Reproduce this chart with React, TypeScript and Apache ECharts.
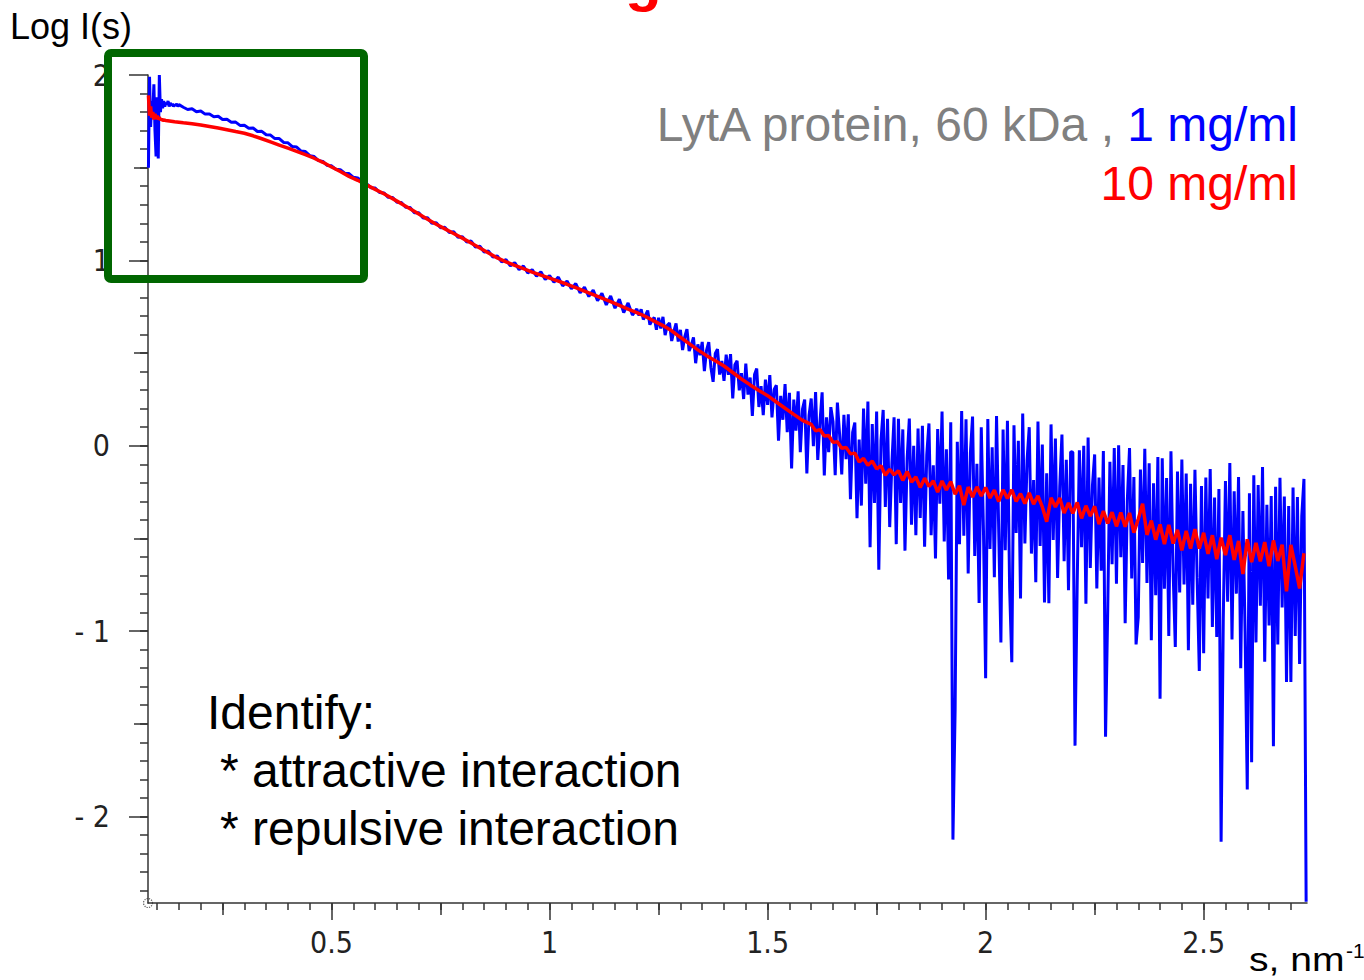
import React, { useEffect, useRef } from "react";
import * as echarts from "echarts";

// ---- axis ranges and ticks ----
const X_MIN = 0.079;
const X_MAX = 2.737;
const Y_MIN = -2.467;
const Y_MAX = 2;
const X_MAJOR = [0.5, 1, 1.5, 2, 2.5];
const X_MID = [0.25, 0.75, 1.25, 1.75, 2.25];
const Y_MAJOR = [-2, -1, 0, 1, 2];
const Y_MID = [-1.5, -0.5, 0.5, 1.5];
const X_MINOR: number[] = [];
for (let k = 2; k <= 54; k++) X_MINOR.push(+(k * 0.05).toFixed(2));
const Y_MINOR: number[] = [];
for (let k = -24; k <= 19; k++) Y_MINOR.push(+(k * 0.1).toFixed(1));

// ---- data: s grid start / step and Log I(s) values ----
// 1 mg/ml (blue)
const BLUE_HEAD_START = 0.08, BLUE_HEAD_STEP = 0.0025;
const blueHead = [1.50, 1.99, 1.72, 1.86, 1.80, 1.95, 1.70, 1.56, 1.88, 1.55, 2.00, 1.80, 1.87, 1.82, 1.86, 1.83, 1.85, 1.84, 1.86, 1.83, 1.85, 1.835, 1.845, 1.83, 1.84, 1.835, 1.845, 1.83, 1.84];
const BLUE_MID_START = 0.16, BLUE_MID_STEP = 0.01;
const blueMid = [
  1.826, 1.814, 1.818, 1.802, 1.806, 1.789, 1.790, 1.775, 1.777, 1.760,
  1.761, 1.745, 1.746, 1.728, 1.729, 1.713, 1.714, 1.695, 1.696, 1.678,
  1.676, 1.657, 1.657, 1.636, 1.634, 1.614, 1.611, 1.590, 1.587, 1.565,
  1.560, 1.538, 1.534, 1.512, 1.510, 1.491, 1.489, 1.470, 1.468, 1.448,
  1.445, 1.425, 1.414, 1.392, 1.390, 1.366, 1.364, 1.340, 1.339, 1.313,
  1.312, 1.286, 1.285, 1.257, 1.257, 1.229, 1.230, 1.200, 1.203, 1.176,
  1.178, 1.150, 1.155, 1.124, 1.128, 1.099, 1.104, 1.072, 1.076, 1.045,
  1.050, 1.018, 1.024, 0.992, 1.004, 0.970, 0.988, 0.950, 0.970, 0.932,
  0.950, 0.915, 0.938, 0.897, 0.918, 0.882, 0.910, 0.862, 0.889, 0.846,
  0.875, 0.825, 0.856, 0.805, 0.840, 0.782, 0.822, 0.760, 0.808, 0.742,
  0.790, 0.718, 0.770, 0.705,
];
const BLUE_TAIL_START = 1.2, BLUE_TAIL_STEP = 0.005;
const blueTail = [
  0.738, 0.702, 0.736, 0.681, 0.705, 0.729, 0.653, 0.677, 0.692, 0.626,
  0.690, 0.632, 0.695, 0.597, 0.650, 0.662, 0.565, 0.617, 0.660, 0.562,
  0.625, 0.516, 0.588, 0.629, 0.511, 0.542, 0.584, 0.445, 0.547, 0.488,
  0.560, 0.403, 0.516, 0.559, 0.422, 0.345, 0.498, 0.521, 0.384, 0.457,
  0.350, 0.491, 0.383, 0.494, 0.255, 0.437, 0.458, 0.299, 0.391, 0.252,
  0.443, 0.276, 0.368, 0.161, 0.384, 0.416, 0.209, 0.322, 0.165, 0.357,
  0.220, 0.381, 0.153, 0.304, 0.326, 0.027, 0.269, 0.140, 0.332, 0.073,
  0.285, -0.123, 0.249, 0.081, 0.293, -0.035, 0.197, 0.249, -0.149, 0.163,
  0.255, -0.002, 0.290, -0.077, 0.125, 0.288, -0.160, 0.153, -0.035, 0.208,
  0.130, -0.159, 0.233, 0.064, -0.155, 0.167, -0.072, 0.169, -0.289, 0.072,
  0.125, -0.391, 0.033, -0.323, 0.201, -0.205, 0.239, -0.547, 0.117, -0.309,
  0.185, -0.669, 0.027, 0.193, -0.331, 0.145, -0.439, -0.093, 0.153, -0.531,
  0.145, -0.309, 0.088, -0.566, -0.069, 0.147, -0.426, 0.000, -0.483, 0.093,
  -0.390, 0.107, -0.545, -0.048, 0.120, -0.483, -0.105, -0.608, 0.090, -0.313,
  0.185, -0.517, -0.019, -0.721, 0.127, -2.125, -1.427, 0.021, -0.531, 0.187,
  -0.485, 0.143, -0.689, -0.041, 0.157, -0.595, -0.097, -0.849, 0.099, -0.453,
  -1.255, 0.144, -0.557, -0.008, -0.709, 0.160, -0.461, -1.062, 0.087, -0.564,
  0.135, -0.767, -1.168, 0.110, -0.471, 0.027, -0.824, 0.174, -0.527, -0.079,
  0.100, -0.582, -0.185, -0.737, 0.131, -0.541, 0.006, -0.846, -0.148, -0.850,
  0.115, -0.508, 0.039, -0.714, -0.217, 0.060, -0.623, -0.076, -0.779, -0.032,
  -0.035, -1.618, -0.741, -0.024, -0.547, 0.000, -0.853, 0.044, -0.659, -0.212,
  -0.047, -0.770, -0.172, -0.675, -0.028, -1.570, -0.883, -0.086, -0.639, -0.012,
  -0.745, 0.002, -0.601, -0.104, -0.957, -0.290, -0.013, -0.716, -0.169, -1.072,
  -0.925, -0.129, -0.633, -0.017, -0.741, -0.095, -1.049, -0.203, -0.807, -0.061,
  -1.365, -0.068, -0.771, -0.174, -1.027, -0.030, -0.683, -1.086, -0.139, -0.792,
  -0.075, -0.748, -0.150, -1.103, -0.205, -0.858, -0.130, -0.713, -1.215, -0.218,
  -1.120, -0.172, -0.824, -0.126, -0.978, -0.280, -1.032, -0.234, -2.136, -0.938,
  -0.190, -0.842, -0.093, -1.045, -0.246, -0.798, -0.169, -1.201, -0.352, -1.004,
  -1.855, -0.256, -1.708, -0.159, -1.061, -0.212, -0.863, -0.115, -1.166, -0.318,
  -0.970, -0.271, -1.621, -0.222, -1.072, -0.173, -0.873, -0.274, -1.274, -0.325,
  -1.275, -0.226, -1.027, -0.277, -1.178, -0.378, -0.179, -2.460,
];

// 10 mg/ml (red)
const RED_HEAD_START = 0.08, RED_HEAD_STEP = 0.0025;
const redHead = [1.89, 1.78, 1.83, 1.77, 1.80, 1.76, 1.79, 1.765, 1.78, 1.76, 1.772, 1.758, 1.762, 1.756, 1.757];
const RED_MID_START = 0.12, RED_MID_STEP = 0.02;
const redMid = [
  1.755, 1.748, 1.742, 1.737, 1.730, 1.722, 1.714, 1.705, 1.695, 1.686,
  1.672, 1.656, 1.639, 1.622, 1.605, 1.588, 1.570, 1.551, 1.529, 1.504,
  1.479, 1.453, 1.432, 1.407, 1.383, 1.359, 1.333, 1.306, 1.278, 1.250,
  1.222, 1.195, 1.170, 1.145, 1.120, 1.094, 1.067, 1.040, 1.013, 0.992,
  0.973, 0.955, 0.937, 0.920, 0.904, 0.888, 0.871, 0.853, 0.834, 0.815,
  0.796, 0.777, 0.757, 0.737, 0.718, 0.697, 0.672, 0.648, 0.620, 0.585,
  0.551, 0.517, 0.486, 0.458, 0.430, 0.395, 0.360, 0.328, 0.298, 0.270,
  0.236, 0.202, 0.169, 0.137,
];
const RED_TAIL_START = 1.6, RED_TAIL_STEP = 0.01;
const redTail = [
  0.115, 0.080, 0.087, 0.052, 0.055, 0.018, 0.021, -0.014, -0.009, -0.044,
  -0.040, -0.087, -0.069, -0.106, -0.083, -0.125, -0.108, -0.159, -0.127, -0.157,
  -0.135, -0.187, -0.139, -0.196, -0.168, -0.225, -0.175, -0.220, -0.190, -0.250,
  -0.190, -0.239, -0.193, -0.262, -0.216, -0.320, -0.223, -0.277, -0.222, -0.271,
  -0.225, -0.282, -0.239, -0.301, -0.238, -0.285, -0.238, -0.301, -0.259, -0.312,
  -0.255, -0.315, -0.270, -0.330, -0.410, -0.281, -0.331, -0.282, -0.363, -0.309,
  -0.365, -0.306, -0.392, -0.324, -0.380, -0.327, -0.423, -0.353, -0.419, -0.359,
  -0.435, -0.361, -0.437, -0.363, -0.469, -0.395, -0.313, -0.481, -0.404, -0.507,
  -0.425, -0.531, -0.427, -0.528, -0.454, -0.565, -0.460, -0.555, -0.450, -0.555,
  -0.470, -0.584, -0.483, -0.612, -0.496, -0.590, -0.483, -0.616, -0.514, -0.692,
  -0.505, -0.628, -0.524, -0.624, -0.520, -0.650, -0.511, -0.622, -0.534, -0.785,
  -0.535, -0.650, -0.770, -0.580,
];

// ---- texts ----
const Y_TITLE = "Log I(s)";
const X_TITLE = "s, nm";
const X_TITLE_SUP = "-1";
const SAMPLE_TEXT = "LytA protein, 60 kDa , ";
const BLUE_NAME = "1 mg/ml";
const RED_NAME = "10 mg/ml";
const NOTE_LINES = ["Identify:", "* attractive interaction", "* repulsive interaction"];
const TITLE_FRAGMENT = "g";

const SANS = '"Liberation Sans", Arial, sans-serif';
const NARROW = '"Liberation Sans Narrow", "Arial Narrow", "DejaVu Sans Condensed", "Liberation Sans", sans-serif';
const AXIS_COLOR = "#333";

function seg(start: number, step: number, vals: number[]) {
  return vals.map((v, i) => [+(start + i * step).toFixed(4), v]);
}

const blueData = [
  ...seg(BLUE_HEAD_START, BLUE_HEAD_STEP, blueHead),
  ...seg(BLUE_MID_START, BLUE_MID_STEP, blueMid),
  ...seg(BLUE_TAIL_START, BLUE_TAIL_STEP, blueTail),
];
const redData = [
  ...seg(RED_HEAD_START, RED_HEAD_STEP, redHead),
  ...seg(RED_MID_START, RED_MID_STEP, redMid),
  ...seg(RED_TAIL_START, RED_TAIL_STEP, redTail),
];

function fmt(v: number) {
  return v < 0 ? "- " + String(-v) : String(v);
}

function makeAxis(kind: "x" | "y", ticks: number[], len: number, withLine: boolean, withLabel: boolean) {
  const isX = kind === "x";
  return {
    type: "value",
    gridIndex: 0,
    position: isX ? "bottom" : "left",
    min: isX ? X_MIN : Y_MIN,
    max: isX ? X_MAX : Y_MAX,
    splitLine: { show: false },
    axisLine: { show: withLine, onZero: false, lineStyle: { color: AXIS_COLOR, width: 1.5 } },
    axisTick: { show: true, inside: false, length: len, customValues: ticks, lineStyle: { color: AXIS_COLOR, width: 1.5 } },
    axisLabel: withLabel
      ? {
          show: true,
          customValues: ticks,
          formatter: fmt,
          margin: isX ? 24 : 38,
          color: "#222",
          fontSize: 30,
          fontFamily: NARROW,
        }
      : { show: false },
  };
}

export default function App() {
  const ref = useRef<HTMLDivElement>(null);
  useEffect(() => {
    if (!ref.current) return;
    const chart = echarts.init(ref.current, undefined, { renderer: "svg" });
    chart.setOption({
      animation: false,
      backgroundColor: "#ffffff",
      grid: { left: 148, right: 57, top: 75, bottom: 77, containLabel: false },
      xAxis: [
        makeAxis("x", X_MAJOR, 17, true, true),
        makeAxis("x", X_MID, 12, false, false),
        makeAxis("x", X_MINOR, 7, false, false),
      ],
      yAxis: [
        makeAxis("y", Y_MAJOR, 19, true, true),
        makeAxis("y", Y_MID, 14, false, false),
        makeAxis("y", Y_MINOR, 8, false, false),
      ],
      series: [
        {
          name: BLUE_NAME,
          type: "line",
          data: blueData,
          showSymbol: false,
          symbol: "none",
          lineStyle: { color: "#0000ff", width: 3 },
          z: 2,
        },
        {
          name: RED_NAME,
          type: "line",
          data: redData,
          showSymbol: false,
          symbol: "none",
          lineStyle: { color: "#ff0000", width: 3.5 },
          z: 3,
        },
        {
          type: "scatter",
          data: [[X_MIN, Y_MIN]],
          symbol: "circle",
          symbolSize: 9,
          clip: false,
          itemStyle: { color: "rgba(255,255,255,0)", borderColor: "#333", borderWidth: 1.2, borderType: "dotted" },
          z: 5,
        },
      ],
      graphic: [
        {
          type: "text", x: 625, y: -21, z: 50,
          style: { text: TITLE_FRAGMENT, fontSize: 60, fontWeight: "bold", fontFamily: SANS, fill: "#ff0000", verticalAlign: "middle" },
        },
        {
          type: "text", x: 10, y: 26, z: 50,
          style: { text: Y_TITLE, fontSize: 36, fontFamily: SANS, fill: "#000", verticalAlign: "middle" },
        },
        {
          type: "text", x: 1249, y: 959, z: 50, scaleX: 1.15,
          style: { text: X_TITLE, fontSize: 34, fontFamily: SANS, fill: "#000", verticalAlign: "middle" },
        },
        {
          type: "text", x: 1346, y: 950, z: 50,
          style: { text: X_TITLE_SUP, fontSize: 21, fontFamily: SANS, fill: "#000", verticalAlign: "middle" },
        },
        {
          type: "text", x: 1298, y: 124, z: 50,
          style: {
            text: "{g|" + SAMPLE_TEXT + "}{b|" + BLUE_NAME + "}",
            align: "right",
            verticalAlign: "middle",
            rich: {
              g: { fill: "#808080", fontSize: 48, fontFamily: SANS },
              b: { fill: "#0000ff", fontSize: 48, fontFamily: SANS },
            },
          },
        },
        {
          type: "text", x: 1298, y: 183, z: 50,
          style: { text: RED_NAME, fontSize: 48, fontFamily: SANS, fill: "#ff0000", align: "right", verticalAlign: "middle" },
        },
        {
          type: "text", x: 207, y: 712, z: 50,
          style: { text: NOTE_LINES[0], fontSize: 48, fontFamily: SANS, fill: "#000", verticalAlign: "middle" },
        },
        {
          type: "text", x: 220, y: 770, z: 50,
          style: { text: NOTE_LINES[1], fontSize: 48, fontFamily: SANS, fill: "#000", verticalAlign: "middle" },
        },
        {
          type: "text", x: 220, y: 828, z: 50,
          style: { text: NOTE_LINES[2], fontSize: 48, fontFamily: SANS, fill: "#000", verticalAlign: "middle" },
        },
        {
          type: "rect", z: 100,
          shape: { x: 108, y: 53, width: 256, height: 226, r: 3 },
          style: { fill: "none", stroke: "#006600", lineWidth: 8 },
        },
      ],
    });
    return () => chart.dispose();
  }, []);
  return (
    <div
      ref={ref}
      style={{ position: "fixed", left: 0, top: 0, width: 1364, height: 980, background: "#fff" }}
    />
  );
}
